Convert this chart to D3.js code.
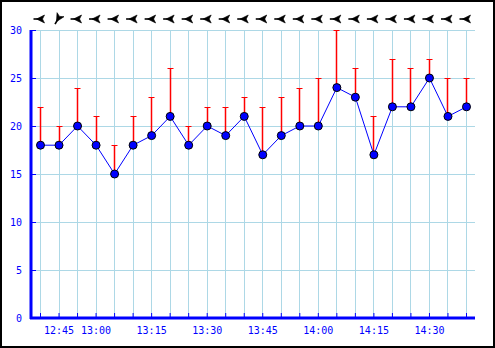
<!DOCTYPE html>
<html>
<head>
<meta charset="utf-8">
<script src="https://cdn.jsdelivr.net/npm/d3@7"></script>
<style>
  body { margin: 0; background: #fff; }
  svg { display: block; }
</style>
</head>
<body>
<svg id="chart" width="495" height="348"></svg>
<script>
var times = ["12:40", "12:45", "12:50", "13:00", "13:05", "13:10", "13:15", "13:20",
             "13:25", "13:30", "13:35", "13:40", "13:45", "13:50", "13:55", "14:00",
             "14:05", "14:10", "14:15", "14:20", "14:25", "14:30", "14:35", "14:40"];
var speed = [18, 18, 20, 18, 15, 18, 19, 21, 18, 20, 19, 21, 17, 19, 20, 20, 24, 23, 17, 22, 22, 25, 21, 22];
var gust  = [22, 20, 24, 21, 18, 21, 23, 26, 20, 22, 22, 23, 22, 23, 24, 25, 30, 26, 21, 27, 26, 27, 25, 25];
var direction = [0, -60, 0, 0, 0, 0, 0, 0, 0, 0, 0, 0, 0, 0, 0, 0, 0, 0, 0, 0, 0, 0, 0, 0];
var timeTicks = ["12:45", "13:00", "13:15", "13:30", "13:45", "14:00", "14:15", "14:30"];
var yTicks = [0, 5, 10, 15, 20, 25, 30];

function windChart(){
  var svg = d3.select("#chart"),
      margin = {top: 30, right: 20, bottom: 30, left: 31},
      width = +svg.attr("width") - margin.left - margin.right,
      height = +svg.attr("height") - margin.top - margin.bottom,
      g = svg.append("g").attr("transform", "translate(" + margin.left + "," + margin.top + ")");

  // outer frame
  svg.append("rect")
      .attr("x", 1).attr("y", 1)
      .attr("width", 493).attr("height", 346)
      .attr("fill", "none")
      .attr("stroke", "#000")
      .attr("stroke-width", 2);

  var x = d3.scalePoint()
      .domain(times)
      .range([9, 435]);

  var y = d3.scaleLinear()
      .domain([0, 30])
      .range([height, 0]);

  // grid
  g.append("g")
    .selectAll("line")
    .data(times)
    .enter().append("line")
      .attr("x1", function(d){ return Math.round(x(d)) + 0.5; })
      .attr("x2", function(d){ return Math.round(x(d)) + 0.5; })
      .attr("y1", 0)
      .attr("y2", height)
      .attr("stroke", "#add8e6");

  g.append("g")
    .selectAll("line")
    .data(yTicks.slice(1))
    .enter().append("line")
      .attr("x1", 0)
      .attr("x2", width)
      .attr("y1", function(d){ return Math.round(y(d)) + 0.5; })
      .attr("y2", function(d){ return Math.round(y(d)) + 0.5; })
      .attr("stroke", "#add8e6");

  // axes
  var xAxis = g.append("g")
      .attr("transform", "translate(0," + height + ")")
      .call(d3.axisBottom(x)
        .tickSize(-5)
        .tickFormat(function(d){ return timeTicks.indexOf(d) >= 0 ? d : ""; }));
  xAxis.select(".domain").attr("stroke", "#00f").attr("stroke-width", 3)
      .attr("d", "M-1,0H" + width);
  xAxis.selectAll(".tick line").attr("stroke", "#00f");
  xAxis.selectAll("text")
      .attr("fill", "#00f")
      .attr("font-family", "DejaVu Sans Mono")
      .attr("font-size", 10)
      .attr("y", 9);

  var yAxis = g.append("g")
      .call(d3.axisLeft(y)
        .tickValues(yTicks)
        .tickSize(-5)
        .tickPadding(9));
  yAxis.select(".domain").attr("stroke", "#00f").attr("stroke-width", 3)
      .attr("d", "M0,0V" + (height + 1));
  yAxis.selectAll(".tick line").attr("stroke", "#00f");
  yAxis.selectAll("text")
      .attr("fill", "#00f")
      .attr("font-family", "DejaVu Sans Mono")
      .attr("font-size", 10);

  // gust bars
  var bars = g.append("g")
    .selectAll("g")
    .data(times)
    .enter().append("g")
      .attr("stroke", "#f00");

  bars.append("line")
      .attr("x1", function(d){ return Math.round(x(d)) + 0.5; })
      .attr("x2", function(d){ return Math.round(x(d)) + 0.5; })
      .attr("y1", function(d, i){ return y(speed[i]); })
      .attr("y2", function(d, i){ return Math.round(y(gust[i])); })
      .attr("stroke-width", 1.5);

  bars.append("line")
      .attr("x1", function(d){ return Math.round(x(d)) - 2.5; })
      .attr("x2", function(d){ return Math.round(x(d)) + 3.5; })
      .attr("y1", function(d, i){ return Math.round(y(gust[i])) + 0.5; })
      .attr("y2", function(d, i){ return Math.round(y(gust[i])) + 0.5; });

  // speed line
  var line = d3.line()
      .x(function(d, i){ return x(times[i]) + 0.5; })
      .y(function(d){ return y(d); });

  g.append("path")
      .datum(speed)
      .attr("fill", "none")
      .attr("stroke", "#00f")
      .attr("stroke-width", 1)
      .attr("d", line);

  g.append("g")
    .selectAll("circle")
    .data(speed)
    .enter().append("circle")
      .attr("cx", function(d, i){ return x(times[i]) + 0.5; })
      .attr("cy", function(d){ return y(d); })
      .attr("r", 4)
      .attr("fill", "#00f")
      .attr("stroke", "#000")
      .attr("stroke-width", 1);

  // wind direction arrows
  var arrows = g.append("g")
    .selectAll("g")
    .data(direction)
    .enter().append("g")
      .attr("transform", function(d, i){
        return "translate(" + (x(times[i]) - 0.5) + "," + (-11) + ") rotate(" + d + ")";
      });

  arrows.append("line")
      .attr("x1", -6).attr("x2", 0)
      .attr("y1", 0).attr("y2", 0)
      .attr("stroke", "#000")
      .attr("stroke-width", 1.6);

  arrows.append("path")
      .attr("d", "M-3,0L5,-4L3,0L5,4Z")
      .attr("fill", "#000")
      .attr("stroke", "#000")
      .attr("stroke-width", 0.6);
}

windChart();
</script>
</body>
</html>
